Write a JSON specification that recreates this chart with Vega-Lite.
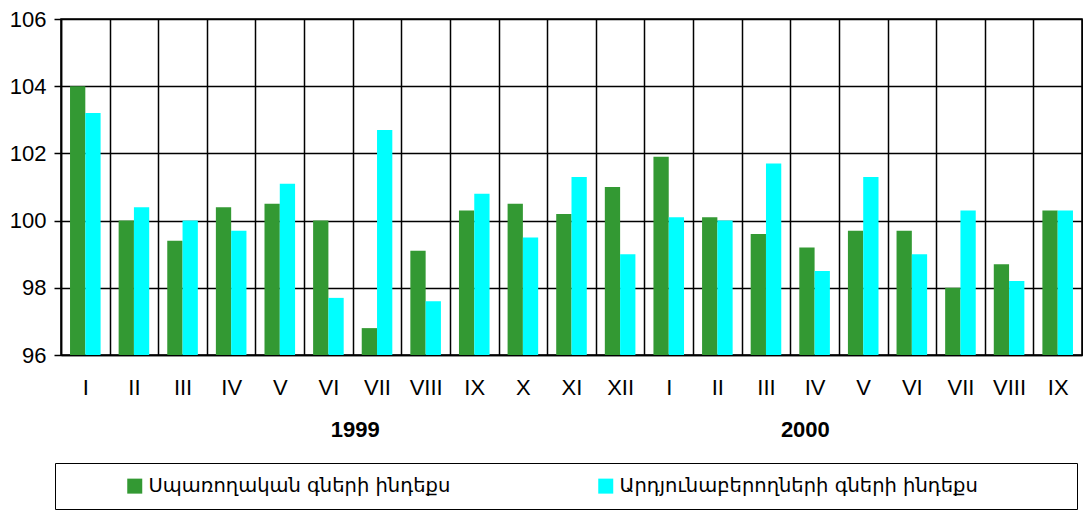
{
  "$schema": "https://vega.github.io/schema/vega-lite/v6.json",
  "autosize": "none",
  "width": 1021,
  "height": 336,
  "padding": {"left": 61, "top": 19, "right": 1, "bottom": 155},
  "background": "white",
  "config": {
    "view": {"stroke": "black", "strokeWidth": 1.5},
    "font": "Liberation Sans, DejaVu Sans, sans-serif"
  },
  "datasets": {
    "prices": [
      {"period": "1999-I", "series": "Սպառողական գների ինդեքս", "value": 104.0},
      {"period": "1999-I", "series": "Արդյունաբերողների գների ինդեքս", "value": 103.2},
      {"period": "1999-II", "series": "Սպառողական գների ինդեքս", "value": 100.0},
      {"period": "1999-II", "series": "Արդյունաբերողների գների ինդեքս", "value": 100.4},
      {"period": "1999-III", "series": "Սպառողական գների ինդեքս", "value": 99.4},
      {"period": "1999-III", "series": "Արդյունաբերողների գների ինդեքս", "value": 100.0},
      {"period": "1999-IV", "series": "Սպառողական գների ինդեքս", "value": 100.4},
      {"period": "1999-IV", "series": "Արդյունաբերողների գների ինդեքս", "value": 99.7},
      {"period": "1999-V", "series": "Սպառողական գների ինդեքս", "value": 100.5},
      {"period": "1999-V", "series": "Արդյունաբերողների գների ինդեքս", "value": 101.1},
      {"period": "1999-VI", "series": "Սպառողական գների ինդեքս", "value": 100.0},
      {"period": "1999-VI", "series": "Արդյունաբերողների գների ինդեքս", "value": 97.7},
      {"period": "1999-VII", "series": "Սպառողական գների ինդեքս", "value": 96.8},
      {"period": "1999-VII", "series": "Արդյունաբերողների գների ինդեքս", "value": 102.7},
      {"period": "1999-VIII", "series": "Սպառողական գների ինդեքս", "value": 99.1},
      {"period": "1999-VIII", "series": "Արդյունաբերողների գների ինդեքս", "value": 97.6},
      {"period": "1999-IX", "series": "Սպառողական գների ինդեքս", "value": 100.3},
      {"period": "1999-IX", "series": "Արդյունաբերողների գների ինդեքս", "value": 100.8},
      {"period": "1999-X", "series": "Սպառողական գների ինդեքս", "value": 100.5},
      {"period": "1999-X", "series": "Արդյունաբերողների գների ինդեքս", "value": 99.5},
      {"period": "1999-XI", "series": "Սպառողական գների ինդեքս", "value": 100.2},
      {"period": "1999-XI", "series": "Արդյունաբերողների գների ինդեքս", "value": 101.3},
      {"period": "1999-XII", "series": "Սպառողական գների ինդեքս", "value": 101.0},
      {"period": "1999-XII", "series": "Արդյունաբերողների գների ինդեքս", "value": 99.0},
      {"period": "2000-I", "series": "Սպառողական գների ինդեքս", "value": 101.9},
      {"period": "2000-I", "series": "Արդյունաբերողների գների ինդեքս", "value": 100.1},
      {"period": "2000-II", "series": "Սպառողական գների ինդեքս", "value": 100.1},
      {"period": "2000-II", "series": "Արդյունաբերողների գների ինդեքս", "value": 100.0},
      {"period": "2000-III", "series": "Սպառողական գների ինդեքս", "value": 99.6},
      {"period": "2000-III", "series": "Արդյունաբերողների գների ինդեքս", "value": 101.7},
      {"period": "2000-IV", "series": "Սպառողական գների ինդեքս", "value": 99.2},
      {"period": "2000-IV", "series": "Արդյունաբերողների գների ինդեքս", "value": 98.5},
      {"period": "2000-V", "series": "Սպառողական գների ինդեքս", "value": 99.7},
      {"period": "2000-V", "series": "Արդյունաբերողների գների ինդեքս", "value": 101.3},
      {"period": "2000-VI", "series": "Սպառողական գների ինդեքս", "value": 99.7},
      {"period": "2000-VI", "series": "Արդյունաբերողների գների ինդեքս", "value": 99.0},
      {"period": "2000-VII", "series": "Սպառողական գների ինդեքս", "value": 98.0},
      {"period": "2000-VII", "series": "Արդյունաբերողների գների ինդեքս", "value": 100.3},
      {"period": "2000-VIII", "series": "Սպառողական գների ինդեքս", "value": 98.7},
      {"period": "2000-VIII", "series": "Արդյունաբերողների գների ինդեքս", "value": 98.2},
      {"period": "2000-IX", "series": "Սպառողական գների ինդեքս", "value": 100.3},
      {"period": "2000-IX", "series": "Արդյունաբերողների գների ինդեքս", "value": 100.3}
    ],
    "years1999": [{"period": "1999-VII", "year": "1999"}],
    "years2000": [{"period": "2000-IV", "year": "2000"}]
  },
  "layer": [
    {
      "data": {"name": "prices"},
      "mark": {"type": "bar", "orient": "vertical"},
      "encoding": {
        "x": {
          "field": "period",
          "type": "nominal",
          "sort": null,
          "scale": {"paddingInner": 0, "paddingOuter": 0},
          "axis": {
            "title": null,
            "labelExpr": "split(datum.value, '-')[1]",
            "labelAngle": 0,
            "labelFont": "Liberation Sans",
            "labelFontSize": 22,
            "labelColor": "black",
            "labelPadding": 22,
            "labelBaseline": "top",
            "ticks": false,
            "tickBand": "extent",
            "grid": true,
            "gridColor": "black",
            "gridOpacity": 1,
            "gridWidth": 1.5,
            "domain": true,
            "domainColor": "black",
            "domainWidth": 1.5
          }
        },
        "xOffset": {
          "field": "series",
          "type": "nominal",
          "sort": ["Սպառողական գների ինդեքս", "Արդյունաբերողների գների ինդեքս"],
          "scale": {"paddingInner": 0, "paddingOuter": 0.59}
        },
        "y": {
          "field": "value",
          "type": "quantitative",
          "scale": {"domain": [96, 106], "nice": false, "zero": false},
          "axis": {
            "title": null,
            "values": [96, 98, 100, 102, 104, 106],
            "labelFont": "Liberation Sans",
            "labelFontSize": 22,
            "labelColor": "black",
            "labelPadding": 8,
            "tickSize": 7,
            "tickColor": "black",
            "tickWidth": 1.5,
            "grid": true,
            "gridColor": "black",
            "gridOpacity": 1,
            "gridWidth": 1.5,
            "domainColor": "black",
            "domainWidth": 1.5
          }
        },
        "y2": {"datum": 96},
        "color": {
          "field": "series",
          "type": "nominal",
          "scale": {
            "domain": ["Սպառողական գների ինդեքս", "Արդյունաբերողների գների ինդեքս"],
            "range": ["#339933", "#00FFFF"]
          },
          "legend": {
            "title": null,
            "orient": "none",
            "legendX": -6,
            "legendY": 444,
            "direction": "horizontal",
            "columns": 2,
            "columnPadding": 88,
            "padding": 13,
            "strokeColor": "black",
            "fillColor": "white",
            "symbolType": "square",
            "symbolSize": 225,
            "symbolStrokeWidth": 0,
            "symbolOpacity": 1,
            "symbolOffset": 57,
            "labelOffset": 4,
            "labelFont": "DejaVu Sans",
            "labelFontSize": 19.5,
            "labelColor": "black",
            "labelLimit": 700,
            "labelExpr": "indexof(datum.label, 'Արդ') === 0 ? datum.label + '\u2800\u2800\u2800\u2800\u2800\u2800' : datum.label"
          }
        }
      }
    },
    {
      "data": {"name": "years1999"},
      "mark": {"type": "text", "fontWeight": "bold", "fontSize": 22, "font": "Liberation Sans", "color": "black", "baseline": "middle", "align": "center"},
      "encoding": {
        "x": {"field": "period", "type": "nominal", "sort": null, "bandPosition": 0.05},
        "y": {"datum": 93.77},
        "text": {"field": "year"}
      }
    },
    {
      "data": {"name": "years2000"},
      "mark": {"type": "text", "fontWeight": "bold", "fontSize": 22, "font": "Liberation Sans", "color": "black", "baseline": "middle", "align": "center"},
      "encoding": {
        "x": {"field": "period", "type": "nominal", "sort": null, "bandPosition": 0.31},
        "y": {"datum": 93.77},
        "text": {"field": "year"}
      }
    }
  ]
}
